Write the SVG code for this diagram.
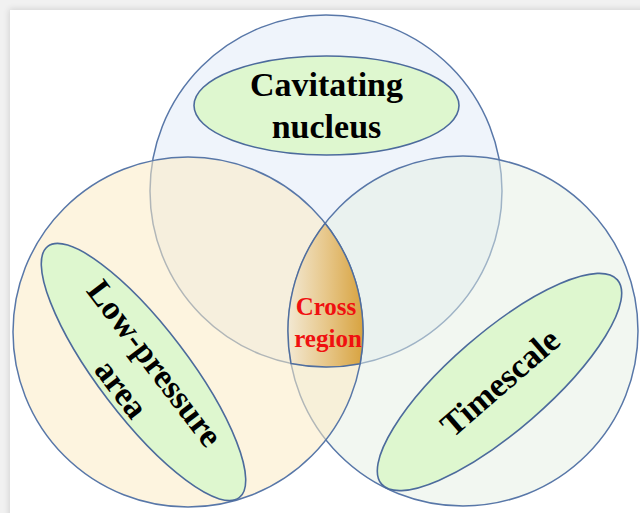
<svg xmlns="http://www.w3.org/2000/svg" width="640" height="513" viewBox="0 0 640 513">
  <defs>
    <style>
      .circ { stroke: #5877a8; stroke-width: 1.5; }
      .ell { fill: #def7cf; stroke: #4c6b9c; stroke-width: 1.6; }
      .lbl { font-family: "Liberation Serif", "Times New Roman", serif; font-weight: bold; font-size: 34px; fill: #000; text-anchor: middle; }
      .red { font-family: "Liberation Serif", "Times New Roman", serif; font-weight: bold; font-size: 25px; fill: #f01010; text-anchor: middle; }
    </style>
    <linearGradient id="crossGrad" gradientUnits="userSpaceOnUse" x1="290" y1="0" x2="362" y2="0">
      <stop offset="0" stop-color="#f2e7cf"/>
      <stop offset="0.5" stop-color="#e7c78a"/>
      <stop offset="1" stop-color="#d8a442"/>
    </linearGradient>
    <filter id="shadow" x="-5%" y="-5%" width="110%" height="110%">
      <feGaussianBlur stdDeviation="3"/>
    </filter>
  </defs>

  <g id="frame">
    <rect x="0" y="0" width="640" height="513" fill="#f1f1f1"/>
    <rect x="9" y="9" width="640" height="513" fill="#000" opacity="0.12" filter="url(#shadow)"/>
    <rect x="10" y="10" width="640" height="513" fill="#ffffff"/>
  </g>

  <g id="circle-top">
    <circle class="circ" cx="326" cy="191" r="176" fill="#eff4fb"/>
  </g>
  <g id="circle-right">
    <circle class="circ" cx="463" cy="331" r="175" fill="#e6efe3" fill-opacity="0.5"/>
  </g>
  <g id="circle-left">
    <circle class="circ" cx="188" cy="332" r="175" fill="#fcebc4" fill-opacity="0.55"/>
  </g>

  <g id="cross-region">
    <path d="M325.1,223.2 A175,175 0 0 0 291,363.5 A176,176 0 0 0 360.2,363.7 A175,175 0 0 0 325.1,223.2 Z" fill="url(#crossGrad)" stroke="#4f6e9f" stroke-width="1.5"/>
    <text class="red" x="326" y="315">Cross</text>
    <text class="red" x="328" y="347">region</text>
  </g>

  <g id="cavitating-nucleus">
    <ellipse class="ell" cx="326.5" cy="105.5" rx="132.5" ry="49.5"/>
    <text class="lbl" x="326.5" y="96">Cavitating</text>
    <text class="lbl" x="326.5" y="138">nucleus</text>
  </g>

  <g id="low-pressure-area" transform="translate(143.5,372) rotate(52.7)">
    <ellipse class="ell" cx="0" cy="0" rx="158" ry="45"/>
    <text class="lbl" x="0" y="-3">Low-pressure</text>
    <text class="lbl" x="0" y="39">area</text>
  </g>

  <g id="timescale" transform="translate(499.5,382) rotate(-40.9)">
    <ellipse class="ell" cx="0" cy="0" rx="156" ry="49"/>
    <text class="lbl" x="0" y="12">Timescale</text>
  </g>
</svg>
